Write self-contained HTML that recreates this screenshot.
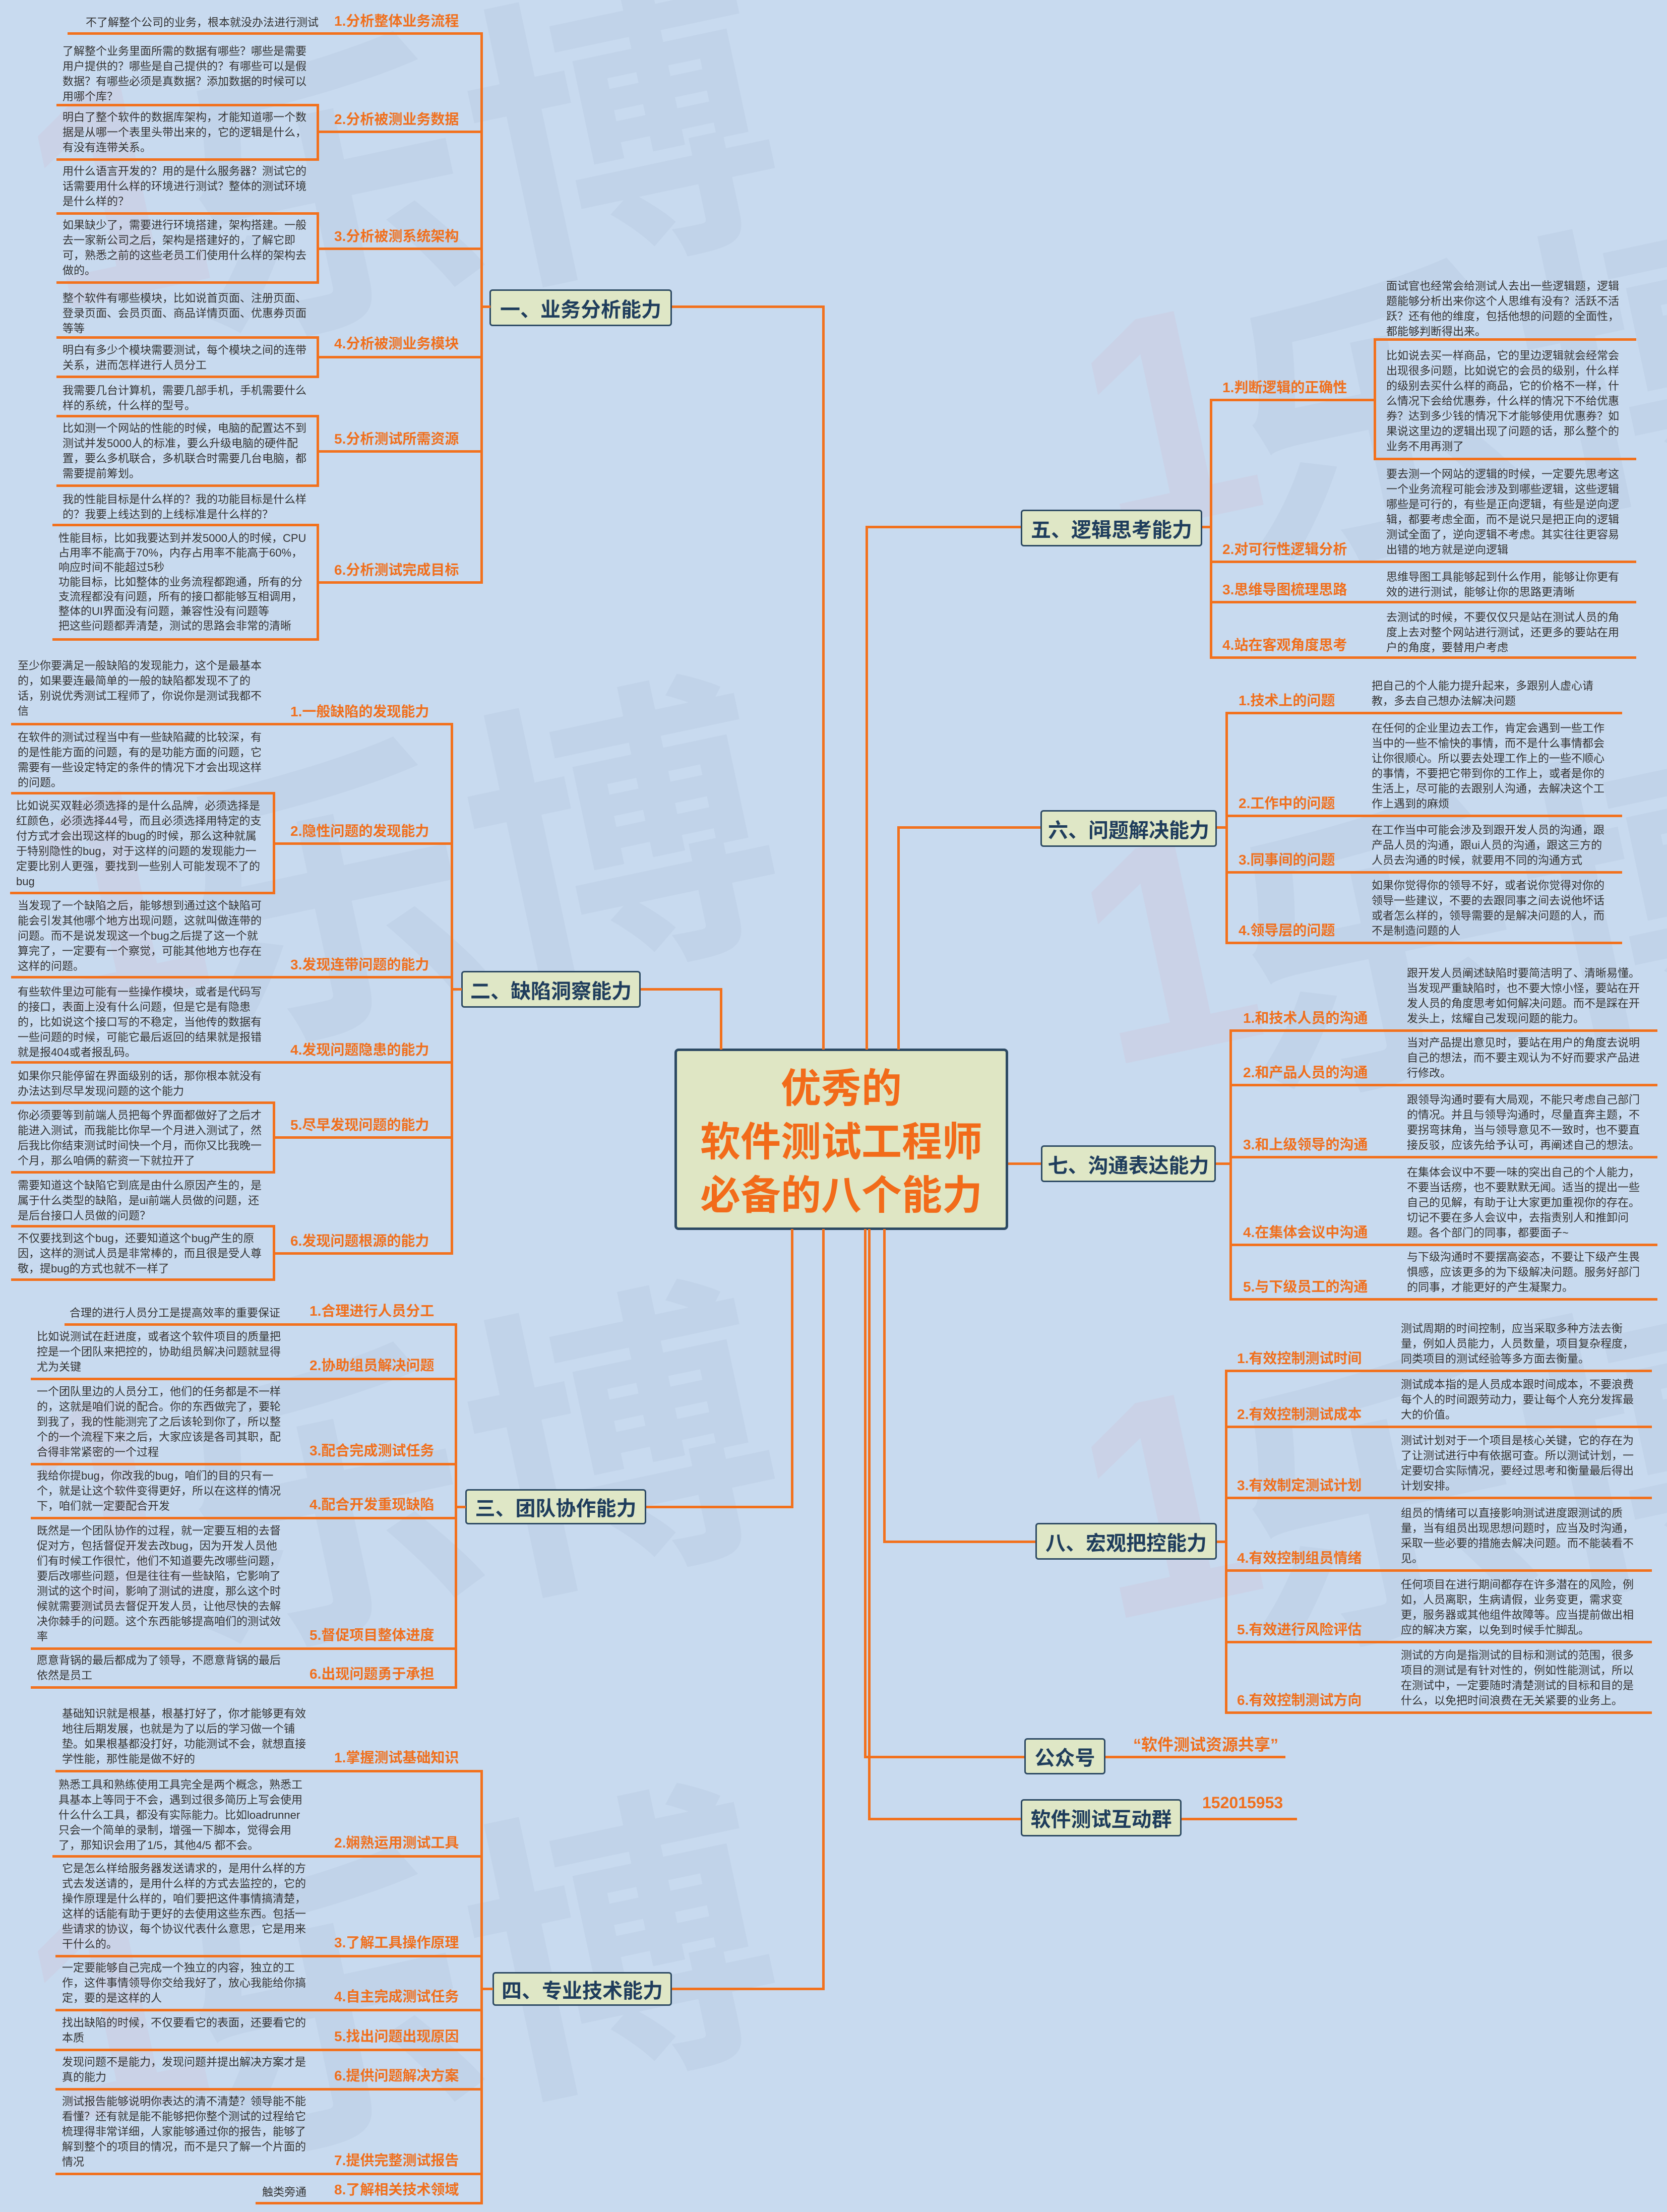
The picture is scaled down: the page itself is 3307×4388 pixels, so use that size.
<!DOCTYPE html>
<html style="overflow:hidden"><head><meta charset="utf-8"><style>
*{margin:0;padding:0}
html,body{width:3307px;height:4388px;overflow:hidden}
body{background:#c8daef;position:relative;font-family:"Liberation Sans","Noto Sans CJK SC",sans-serif}
.wm{position:absolute;left:0;top:0;width:3307px;height:4388px;overflow:hidden}
.w{position:absolute;font-size:600px;line-height:660px;font-weight:bold;color:rgba(150,165,190,0.12);white-space:nowrap;transform:rotate(-12deg);font-family:"Noto Sans CJK SC",sans-serif}
.wp{position:absolute;font-size:600px;line-height:660px;font-weight:bold;color:rgba(225,150,170,0.10);transform:rotate(-12deg);font-family:"Liberation Sans",sans-serif}
.h{position:absolute;height:5px;background:#f2711d}
.v{position:absolute;width:5px;background:#f2711d}
.d{position:absolute;font-size:22px;line-height:30px;color:#333;white-space:nowrap}
.l{position:absolute;font-size:28px;line-height:36px;font-weight:bold;color:#f0701e;white-space:nowrap}
.b{position:absolute;background:#dfe7c6;border:3px solid #2d4a63;border-radius:6px;color:#1f3d5c;font-weight:bold;font-size:40px;display:flex;align-items:center;justify-content:center;box-sizing:border-box;white-space:nowrap}
.c{position:absolute;left:1338px;top:2080px;width:662px;height:360px;background:#dfe6c4;border:5px solid #2d4a63;border-radius:8px;box-sizing:border-box;color:#f26b1a;font-weight:bold;font-size:80px;line-height:106px;text-align:center;padding-top:22px}
.o{position:absolute;font-size:32px;font-weight:bold;color:#f0701e;white-space:nowrap}
</style></head><body>

<!-- watermark -->
<div class="wm">
<div class="wp" style="left:60px;top:1450px">1</div>
<div class="w" style="left:330px;top:1350px">乐博</div>
<div class="wp" style="left:60px;top:50px">1</div>
<div class="w" style="left:330px;top:-50px">乐博</div>
<div class="wp" style="left:60px;top:2650px">1</div>
<div class="w" style="left:330px;top:2550px">乐博</div>
<div class="wp" style="left:60px;top:3650px">1</div>
<div class="w" style="left:330px;top:3550px">乐博</div>
<div class="wp" style="left:2150px;top:500px">1</div>
<div class="w" style="left:2420px;top:400px">乐博</div>
<div class="wp" style="left:2150px;top:1550px">1</div>
<div class="w" style="left:2420px;top:1450px">乐博</div>
<div class="wp" style="left:2150px;top:2650px">1</div>
<div class="w" style="left:2420px;top:2550px">乐博</div>
</div>

<!-- center -->
<div class="c">优秀的<br>软件测试工程师<br>必备的八个能力</div>
<div class="v" style="left:1428px;top:1960px;height:122px"></div>
<div class="v" style="left:1631px;top:606px;height:1476px"></div>
<div class="v" style="left:1717px;top:1043px;height:1039px"></div>
<div class="v" style="left:1780px;top:1639px;height:443px"></div>
<div class="v" style="left:1569px;top:2438px;height:554px"></div>
<div class="v" style="left:1631px;top:2438px;height:1510px"></div>
<div class="v" style="left:1714px;top:2438px;height:1050px"></div>
<div class="v" style="left:1722px;top:2438px;height:1173px"></div>
<div class="v" style="left:1752px;top:2438px;height:621px"></div>

<!-- 一 -->
<div class="b" style="left:971px;top:574px;width:362px;height:73px">一、业务分析能力</div>
<div class="h" style="left:1333px;top:606px;width:303px"></div>
<div class="h" style="left:953px;top:606px;width:20px"></div>
<div class="v" style="left:953px;top:64px;height:1094px"></div>
<div class="h" style="left:134px;top:64px;width:821px"></div>
<div class="l" style="left:663px;top:24px">1.分析整体业务流程</div>
<div class="d" style="left:170px;top:30px">不了解整个公司的业务，根本就没办法进行测试</div>
<div class="h" style="left:112px;top:206px;width:520px"></div><div class="h" style="left:112px;top:314px;width:520px"></div><div class="v" style="left:628px;top:206px;height:113px"></div>
<div class="h" style="left:630px;top:259px;width:325px"></div>
<div class="l" style="left:663px;top:219px">2.分析被测业务数据</div>
<div class="d" style="left:124px;top:87px">了解整个业务里面所需的数据有哪些？哪些是需要<br>用户提供的？哪些是自己提供的？有哪些可以是假<br>数据？有哪些必须是真数据？添加数据的时候可以<br>用哪个库？</div>
<div class="d" style="left:124px;top:218px">明白了整个软件的数据库架构，才能知道哪一个数<br>据是从哪一个表里头带出来的，它的逻辑是什么，<br>有没有连带关系。</div>
<div class="h" style="left:112px;top:421px;width:520px"></div><div class="h" style="left:112px;top:558px;width:520px"></div><div class="v" style="left:628px;top:421px;height:142px"></div>
<div class="h" style="left:630px;top:491px;width:325px"></div>
<div class="l" style="left:663px;top:451px">3.分析被测系统架构</div>
<div class="d" style="left:124px;top:325px">用什么语言开发的？用的是什么服务器？测试它的<br>话需要用什么样的环境进行测试？整体的测试环境<br>是什么样的？</div>
<div class="d" style="left:124px;top:432px">如果缺少了，需要进行环境搭建，架构搭建。一般<br>去一家新公司之后，架构是搭建好的，了解它即<br>可，熟悉之前的这些老员工们使用什么样的架构去<br>做的。</div>
<div class="h" style="left:112px;top:667px;width:520px"></div><div class="h" style="left:112px;top:745px;width:520px"></div><div class="v" style="left:628px;top:667px;height:83px"></div>
<div class="h" style="left:630px;top:706px;width:325px"></div>
<div class="l" style="left:663px;top:664px">4.分析被测业务模块</div>
<div class="d" style="left:124px;top:577px">整个软件有哪些模块，比如说首页面、注册页面、<br>登录页面、会员页面、商品详情页面、优惠券页面<br>等等</div>
<div class="d" style="left:124px;top:680px">明白有多少个模块需要测试，每个模块之间的连带<br>关系，进而怎样进行人员分工</div>
<div class="h" style="left:112px;top:823px;width:520px"></div><div class="h" style="left:112px;top:961px;width:520px"></div><div class="v" style="left:628px;top:823px;height:143px"></div>
<div class="h" style="left:630px;top:893px;width:325px"></div>
<div class="l" style="left:663px;top:853px">5.分析测试所需资源</div>
<div class="d" style="left:124px;top:760px">我需要几台计算机，需要几部手机，手机需要什么<br>样的系统，什么样的型号。</div>
<div class="d" style="left:124px;top:835px">比如测一个网站的性能的时候，电脑的配置达不到<br>测试并发5000人的标准，要么升级电脑的硬件配<br>置，要么多机联合，多机联合时需要几台电脑，都<br>需要提前筹划。</div>
<div class="h" style="left:104px;top:1039px;width:528px"></div><div class="h" style="left:104px;top:1266px;width:528px"></div><div class="v" style="left:628px;top:1039px;height:232px"></div>
<div class="h" style="left:630px;top:1153px;width:325px"></div>
<div class="l" style="left:663px;top:1113px">6.分析测试完成目标</div>
<div class="d" style="left:124px;top:976px">我的性能目标是什么样的？我的功能目标是什么样<br>的？我要上线达到的上线标准是什么样的？</div>
<div class="d" style="left:116px;top:1053px;line-height:29px">性能目标，比如我要达到并发5000人的时候，CPU<br>占用率不能高于70%，内存占用率不能高于60%，<br>响应时间不能超过5秒<br>功能目标，比如整体的业务流程都跑通，所有的分<br>支流程都没有问题，所有的接口都能够互相调用，<br>整体的UI界面没有问题，兼容性没有问题等<br>把这些问题都弄清楚，测试的思路会非常的清晰</div>

<!-- 二 -->
<div class="b" style="left:915px;top:1926px;width:356px;height:73px">二、缺陷洞察能力</div>
<div class="h" style="left:1271px;top:1960px;width:162px"></div>
<div class="h" style="left:894px;top:1960px;width:22px"></div>
<div class="v" style="left:894px;top:1434px;height:1055px"></div>
<div class="h" style="left:22px;top:1434px;width:874px"></div>
<div class="l" style="left:576px;top:1394px">1.一般缺陷的发现能力</div>
<div class="d" style="left:35px;top:1306px">至少你要满足一般缺陷的发现能力，这个是最基本<br>的，如果要连最简单的一般的缺陷都发现不了的<br>话，别说优秀测试工程师了，你说你是测试我都不<br>信</div>
<div class="h" style="left:22px;top:1571px;width:524px"></div><div class="h" style="left:20px;top:1769px;width:526px"></div><div class="v" style="left:541px;top:1571px;height:203px"></div>
<div class="h" style="left:543px;top:1671px;width:353px"></div>
<div class="l" style="left:576px;top:1631px">2.隐性问题的发现能力</div>
<div class="d" style="left:35px;top:1448px">在软件的测试过程当中有一些缺陷藏的比较深，有<br>的是性能方面的问题，有的是功能方面的问题，它<br>需要有一些设定特定的条件的情况下才会出现这样<br>的问题。</div>
<div class="d" style="left:32px;top:1584px">比如说买双鞋必须选择的是什么品牌，必须选择是<br>红颜色，必须选择44号，而且必须选择用特定的支<br>付方式才会出现这样的bug的时候，那么这种就属<br>于特别隐性的bug，对于这样的问题的发现能力一<br>定要比别人更强，要找到一些别人可能发现不了的<br>bug</div>
<div class="h" style="left:22px;top:1936px;width:874px"></div>
<div class="l" style="left:576px;top:1896px">3.发现连带问题的能力</div>
<div class="d" style="left:35px;top:1782px">当发现了一个缺陷之后，能够想到通过这个缺陷可<br>能会引发其他哪个地方出现问题，这就叫做连带的<br>问题。而不是说发现这一个bug之后提了这一个就<br>算完了，一定要有一个察觉，可能其他地方也存在<br>这样的问题。</div>
<div class="h" style="left:22px;top:2105px;width:874px"></div>
<div class="l" style="left:576px;top:2065px">4.发现问题隐患的能力</div>
<div class="d" style="left:35px;top:1953px">有些软件里边可能有一些操作模块，或者是代码写<br>的接口，表面上没有什么问题，但是它是有隐患<br>的，比如说这个接口写的不稳定，当他传的数据有<br>一些问题的时候，可能它最后返回的结果就是报错<br>就是报404或者报乱码。</div>
<div class="h" style="left:22px;top:2185px;width:524px"></div><div class="h" style="left:22px;top:2323px;width:524px"></div><div class="v" style="left:541px;top:2185px;height:143px"></div>
<div class="h" style="left:543px;top:2254px;width:353px"></div>
<div class="l" style="left:576px;top:2214px">5.尽早发现问题的能力</div>
<div class="d" style="left:35px;top:2120px">如果你只能停留在界面级别的话，那你根本就没有<br>办法达到尽早发现问题的这个能力</div>
<div class="d" style="left:35px;top:2198px">你必须要等到前端人员把每个界面都做好了之后才<br>能进入测试，而我能比你早一个月进入测试了，然<br>后我比你结束测试时间快一个月，而你又比我晚一<br>个月，那么咱俩的薪资一下就拉开了</div>
<div class="h" style="left:22px;top:2430px;width:524px"></div><div class="h" style="left:22px;top:2536px;width:524px"></div><div class="v" style="left:541px;top:2430px;height:111px"></div>
<div class="h" style="left:543px;top:2484px;width:353px"></div>
<div class="l" style="left:576px;top:2444px">6.发现问题根源的能力</div>
<div class="d" style="left:35px;top:2337px">需要知道这个缺陷它到底是由什么原因产生的，是<br>属于什么类型的缺陷，是ui前端人员做的问题，还<br>是后台接口人员做的问题？</div>
<div class="d" style="left:35px;top:2442px">不仅要找到这个bug，还要知道这个bug产生的原<br>因，这样的测试人员是非常棒的，而且很是受人尊<br>敬，提bug的方式也就不一样了</div>

<!-- 三 -->
<div class="b" style="left:923px;top:2954px;width:359px;height:70px">三、团队协作能力</div>
<div class="h" style="left:1282px;top:2987px;width:292px"></div>
<div class="h" style="left:902px;top:2987px;width:22px"></div>
<div class="v" style="left:902px;top:2625px;height:725px"></div>
<div class="h" style="left:128px;top:2625px;width:776px"></div>
<div class="l" style="left:614px;top:2583px">1.合理进行人员分工</div>
<div class="d" style="left:138px;top:2590px">合理的进行人员分工是提高效率的重要保证</div>
<div class="h" style="left:61px;top:2733px;width:843px"></div>
<div class="l" style="left:614px;top:2691px">2.协助组员解决问题</div>
<div class="d" style="left:73px;top:2637px">比如说测试在赶进度，或者这个软件项目的质量把<br>控是一个团队来把控的，协助组员解决问题就显得<br>尤为关键</div>
<div class="h" style="left:61px;top:2902px;width:843px"></div>
<div class="l" style="left:614px;top:2860px">3.配合完成测试任务</div>
<div class="d" style="left:73px;top:2746px">一个团队里边的人员分工，他们的任务都是不一样<br>的，这就是咱们说的配合。你的东西做完了，要轮<br>到我了，我的性能测完了之后该轮到你了，所以整<br>个的一个流程下来之后，大家应该是各司其职，配<br>合得非常紧密的一个过程</div>
<div class="h" style="left:61px;top:3009px;width:843px"></div>
<div class="l" style="left:614px;top:2967px">4.配合开发重现缺陷</div>
<div class="d" style="left:73px;top:2913px">我给你提bug，你改我的bug，咱们的目的只有一<br>个，就是让这个软件变得更好，所以在这样的情况<br>下，咱们就一定要配合开发</div>
<div class="h" style="left:61px;top:3268px;width:843px"></div>
<div class="l" style="left:614px;top:3226px">5.督促项目整体进度</div>
<div class="d" style="left:73px;top:3022px">既然是一个团队协作的过程，就一定要互相的去督<br>促对方，包括督促开发去改bug，因为开发人员他<br>们有时候工作很忙，他们不知道要先改哪些问题，<br>要后改哪些问题，但是往往有一些缺陷，它影响了<br>测试的这个时间，影响了测试的进度，那么这个时<br>候就需要测试员去督促开发人员，让他尽快的去解<br>决你棘手的问题。这个东西能够提高咱们的测试效<br>率</div>
<div class="h" style="left:61px;top:3345px;width:843px"></div>
<div class="l" style="left:614px;top:3303px">6.出现问题勇于承担</div>
<div class="d" style="left:73px;top:3279px">愿意背锅的最后都成为了领导，不愿意背锅的最后<br>依然是员工</div>

<!-- 四 -->
<div class="b" style="left:977px;top:3912px;width:356px;height:67px">四、专业技术能力</div>
<div class="h" style="left:1333px;top:3943px;width:303px"></div>
<div class="h" style="left:953px;top:3943px;width:25px"></div>
<div class="v" style="left:953px;top:3511px;height:862px"></div>
<div class="h" style="left:110px;top:3511px;width:845px"></div>
<div class="l" style="left:663px;top:3469px">1.掌握测试基础知识</div>
<div class="d" style="left:123px;top:3385px">基础知识就是根基，根基打好了，你才能够更有效<br>地往后期发展，也就是为了以后的学习做一个铺<br>垫。如果根基都没打好，功能测试不会，就想直接<br>学性能，那性能是做不好的</div>
<div class="h" style="left:104px;top:3680px;width:851px"></div>
<div class="l" style="left:663px;top:3638px">2.娴熟运用测试工具</div>
<div class="d" style="left:116px;top:3526px">熟悉工具和熟练使用工具完全是两个概念，熟悉工<br>具基本上等同于不会，遇到过很多简历上写会使用<br>什么什么工具，都没有实际能力。比如loadrunner<br>只会一个简单的录制，增强一下脚本，觉得会用<br>了，那知识会用了1/5，其他4/5 都不会。</div>
<div class="h" style="left:110px;top:3878px;width:845px"></div>
<div class="l" style="left:663px;top:3836px">3.了解工具操作原理</div>
<div class="d" style="left:123px;top:3692px">它是怎么样给服务器发送请求的，是用什么样的方<br>式去发送请的，是用什么样的方式去监控的，它的<br>操作原理是什么样的，咱们要把这件事情搞清楚，<br>这样的话能有助于更好的去使用这些东西。包括一<br>些请求的协议，每个协议代表什么意思，它是用来<br>干什么的。</div>
<div class="h" style="left:110px;top:3985px;width:845px"></div>
<div class="l" style="left:663px;top:3943px">4.自主完成测试任务</div>
<div class="d" style="left:123px;top:3889px">一定要能够自己完成一个独立的内容，独立的工<br>作，这件事情领导你交给我好了，放心我能给你搞<br>定，要的是这样的人</div>
<div class="h" style="left:110px;top:4064px;width:845px"></div>
<div class="l" style="left:663px;top:4022px">5.找出问题出现原因</div>
<div class="d" style="left:123px;top:3998px">找出缺陷的时候，不仅要看它的表面，还要看它的<br>本质</div>
<div class="h" style="left:110px;top:4142px;width:845px"></div>
<div class="l" style="left:663px;top:4100px">6.提供问题解决方案</div>
<div class="d" style="left:123px;top:4076px">发现问题不是能力，发现问题并提出解决方案才是<br>真的能力</div>
<div class="h" style="left:110px;top:4310px;width:845px"></div>
<div class="l" style="left:663px;top:4268px">7.提供完整测试报告</div>
<div class="d" style="left:123px;top:4154px">测试报告能够说明你表达的清不清楚？领导能不能<br>看懂？还有就是能不能够把你整个测试的过程给它<br>梳理得非常详细，人家能够通过你的报告，能够了<br>解到整个的项目的情况，而不是只了解一个片面的<br>情况</div>
<div class="h" style="left:507px;top:4368px;width:448px"></div>
<div class="l" style="left:663px;top:4326px">8.了解相关技术领域</div>
<div class="d" style="left:520px;top:4334px">触类旁通</div>

<!-- 五 -->
<div class="b" style="left:2025px;top:1011px;width:360px;height:73px">五、逻辑思考能力</div>
<div class="h" style="left:1719px;top:1043px;width:306px"></div>
<div class="h" style="left:2385px;top:1043px;width:19px"></div>
<div class="v" style="left:2400px;top:791px;height:516px"></div>
<div class="h" style="left:2727px;top:671px;width:519px"></div><div class="h" style="left:2727px;top:908px;width:519px"></div><div class="v" style="left:2725px;top:671px;height:242px"></div>
<div class="h" style="left:2402px;top:791px;width:327px"></div>
<div class="l" style="left:2425px;top:751px">1.判断逻辑的正确性</div>
<div class="d" style="left:2750px;top:553px">面试官也经常会给测试人去出一些逻辑题，逻辑<br>题能够分析出来你这个人思维有没有？活跃不活<br>跃？还有他的维度，包括他想的问题的全面性，<br>都能够判断得出来。</div>
<div class="d" style="left:2750px;top:691px">比如说去买一样商品，它的里边逻辑就会经常会<br>出现很多问题，比如说它的会员的级别，什么样<br>的级别去买什么样的商品，它的价格不一样，什<br>么情况下会给优惠券，什么样的情况下不给优惠<br>券？达到多少钱的情况下才能够使用优惠券？如<br>果说这里边的逻辑出现了问题的话，那么整个的<br>业务不用再测了</div>
<div class="h" style="left:2402px;top:1112px;width:844px"></div>
<div class="l" style="left:2425px;top:1072px">2.对可行性逻辑分析</div>
<div class="d" style="left:2750px;top:926px">要去测一个网站的逻辑的时候，一定要先思考这<br>一个业务流程可能会涉及到哪些逻辑，这些逻辑<br>哪些是可行的，有些是正向逻辑，有些是逆向逻<br>辑，都要考虑全面，而不是说只是把正向的逻辑<br>测试全面了，逆向逻辑不考虑。其实往往更容易<br>出错的地方就是逆向逻辑</div>
<div class="h" style="left:2402px;top:1192px;width:844px"></div>
<div class="l" style="left:2425px;top:1152px">3.思维导图梳理思路</div>
<div class="d" style="left:2750px;top:1130px">思维导图工具能够起到什么作用，能够让你更有<br>效的进行测试，能够让你的思路更清晰</div>
<div class="h" style="left:2402px;top:1302px;width:844px"></div>
<div class="l" style="left:2425px;top:1262px">4.站在客观角度思考</div>
<div class="d" style="left:2750px;top:1210px">去测试的时候，不要仅仅只是站在测试人员的角<br>度上去对整个网站进行测试，还更多的要站在用<br>户的角度，要替用户考虑</div>

<!-- 六 -->
<div class="b" style="left:2064px;top:1607px;width:350px;height:73px">六、问题解决能力</div>
<div class="h" style="left:1780px;top:1639px;width:284px"></div>
<div class="h" style="left:2414px;top:1639px;width:20px"></div>
<div class="v" style="left:2431px;top:1412px;height:461px"></div>
<div class="h" style="left:2433px;top:1412px;width:785px"></div>
<div class="l" style="left:2457px;top:1372px">1.技术上的问题</div>
<div class="d" style="left:2721px;top:1346px">把自己的个人能力提升起来，多跟别人虚心请<br>教，多去自己想办法解决问题</div>
<div class="h" style="left:2433px;top:1616px;width:785px"></div>
<div class="l" style="left:2457px;top:1576px">2.工作中的问题</div>
<div class="d" style="left:2721px;top:1430px">在任何的企业里边去工作，肯定会遇到一些工作<br>当中的一些不愉快的事情，而不是什么事情都会<br>让你很顺心。所以要去处理工作上的一些不顺心<br>的事情，不要把它带到你的工作上，或者是你的<br>生活上，尽可能的去跟别人沟通，去解决这个工<br>作上遇到的麻烦</div>
<div class="h" style="left:2433px;top:1728px;width:785px"></div>
<div class="l" style="left:2457px;top:1688px">3.同事间的问题</div>
<div class="d" style="left:2721px;top:1632px">在工作当中可能会涉及到跟开发人员的沟通，跟<br>产品人员的沟通，跟ui人员的沟通，跟这三方的<br>人员去沟通的时候，就要用不同的沟通方式</div>
<div class="h" style="left:2433px;top:1868px;width:785px"></div>
<div class="l" style="left:2457px;top:1828px">4.领导层的问题</div>
<div class="d" style="left:2721px;top:1742px">如果你觉得你的领导不好，或者说你觉得对你的<br>领导一些建议，不要的去跟同事之间去说他坏话<br>或者怎么样的，领导需要的是解决问题的人，而<br>不是制造问题的人</div>

<!-- 七 -->
<div class="b" style="left:2065px;top:2272px;width:347px;height:73px">七、沟通表达能力</div>
<div class="h" style="left:2000px;top:2306px;width:65px"></div>
<div class="h" style="left:2412px;top:2306px;width:31px"></div>
<div class="v" style="left:2439px;top:2042px;height:538px"></div>
<div class="h" style="left:2441px;top:2042px;width:847px"></div>
<div class="l" style="left:2466px;top:2002px">1.和技术人员的沟通</div>
<div class="d" style="left:2791px;top:1916px">跟开发人员阐述缺陷时要简洁明了、清晰易懂。<br>当发现严重缺陷时，也不要大惊小怪，要站在开<br>发人员的角度思考如何解决问题。而不是踩在开<br>发头上，炫耀自己发现问题的能力。</div>
<div class="h" style="left:2441px;top:2150px;width:847px"></div>
<div class="l" style="left:2466px;top:2110px">2.和产品人员的沟通</div>
<div class="d" style="left:2791px;top:2054px">当对产品提出意见时，要站在用户的角度去说明<br>自己的想法，而不要主观认为不好而要求产品进<br>行修改。</div>
<div class="h" style="left:2441px;top:2293px;width:847px"></div>
<div class="l" style="left:2466px;top:2253px">3.和上级领导的沟通</div>
<div class="d" style="left:2791px;top:2167px">跟领导沟通时要有大局观，不能只考虑自己部门<br>的情况。并且与领导沟通时，尽量直奔主题，不<br>要拐弯抹角，当与领导意见不一致时，也不要直<br>接反驳，应该先给予认可，再阐述自己的想法。</div>
<div class="h" style="left:2441px;top:2467px;width:847px"></div>
<div class="l" style="left:2466px;top:2427px">4.在集体会议中沟通</div>
<div class="d" style="left:2791px;top:2311px">在集体会议中不要一味的突出自己的个人能力，<br>不要当话痨，也不要默默无闻。适当的提出一些<br>自己的见解，有助于让大家更加重视你的存在。<br>切记不要在多人会议中，去指责别人和推卸问<br>题。各个部门的同事，都要面子~</div>
<div class="h" style="left:2441px;top:2575px;width:847px"></div>
<div class="l" style="left:2466px;top:2535px">5.与下级员工的沟通</div>
<div class="d" style="left:2791px;top:2479px">与下级沟通时不要摆高姿态，不要让下级产生畏<br>惧感，应该更多的为下级解决问题。服务好部门<br>的同事，才能更好的产生凝聚力。</div>

<!-- 八 -->
<div class="b" style="left:2054px;top:3021px;width:360px;height:73px">八、宏观把控能力</div>
<div class="h" style="left:1752px;top:3056px;width:302px"></div>
<div class="h" style="left:2414px;top:3056px;width:20px"></div>
<div class="v" style="left:2430px;top:2717px;height:683px"></div>
<div class="h" style="left:2432px;top:2717px;width:845px"></div>
<div class="l" style="left:2454px;top:2677px">1.有效控制测试时间</div>
<div class="d" style="left:2779px;top:2621px">测试周期的时间控制，应当采取多种方法去衡<br>量，例如人员能力，人员数量，项目复杂程度，<br>同类项目的测试经验等多方面去衡量。</div>
<div class="h" style="left:2432px;top:2828px;width:845px"></div>
<div class="l" style="left:2454px;top:2788px">2.有效控制测试成本</div>
<div class="d" style="left:2779px;top:2732px">测试成本指的是人员成本跟时间成本，不要浪费<br>每个人的时间跟劳动力，要让每个人充分发挥最<br>大的价值。</div>
<div class="h" style="left:2432px;top:2969px;width:845px"></div>
<div class="l" style="left:2454px;top:2929px">3.有效制定测试计划</div>
<div class="d" style="left:2779px;top:2843px">测试计划对于一个项目是核心关键，它的存在为<br>了让测试进行中有依据可查。所以测试计划，一<br>定要切合实际情况，要经过思考和衡量最后得出<br>计划安排。</div>
<div class="h" style="left:2432px;top:3113px;width:845px"></div>
<div class="l" style="left:2454px;top:3073px">4.有效控制组员情绪</div>
<div class="d" style="left:2779px;top:2987px">组员的情绪可以直接影响测试进度跟测试的质<br>量，当有组员出现思想问题时，应当及时沟通，<br>采取一些必要的措施去解决问题。而不能装看不<br>见。</div>
<div class="h" style="left:2432px;top:3255px;width:845px"></div>
<div class="l" style="left:2454px;top:3215px">5.有效进行风险评估</div>
<div class="d" style="left:2779px;top:3129px">任何项目在进行期间都存在许多潜在的风险，例<br>如，人员离职，生病请假，业务变更，需求变<br>更，服务器或其他组件故障等。应当提前做出相<br>应的解决方案，以免到时候手忙脚乱。</div>
<div class="h" style="left:2432px;top:3395px;width:845px"></div>
<div class="l" style="left:2454px;top:3355px">6.有效控制测试方向</div>
<div class="d" style="left:2779px;top:3269px">测试的方向是指测试的目标和测试的范围，很多<br>项目的测试是有针对性的，例如性能测试，所以<br>在测试中，一定要随时清楚测试的目标和目的是<br>什么，以免把时间浪费在无关紧要的业务上。</div>

<!-- 公众号 / 群 -->
<div class="h" style="left:1714px;top:3483px;width:318px"></div>
<div class="b" style="left:2032px;top:3448px;width:161px;height:72px">公众号</div>
<div class="h" style="left:2193px;top:3483px;width:357px"></div>
<div class="o" style="left:2248px;top:3436px">“软件测试资源共享”</div>
<div class="h" style="left:1722px;top:3606px;width:303px"></div>
<div class="b" style="left:2025px;top:3569px;width:319px;height:74px">软件测试互动群</div>
<div class="h" style="left:2344px;top:3606px;width:229px"></div>
<div class="o" style="left:2385px;top:3558px">152015953</div>

</body></html>
